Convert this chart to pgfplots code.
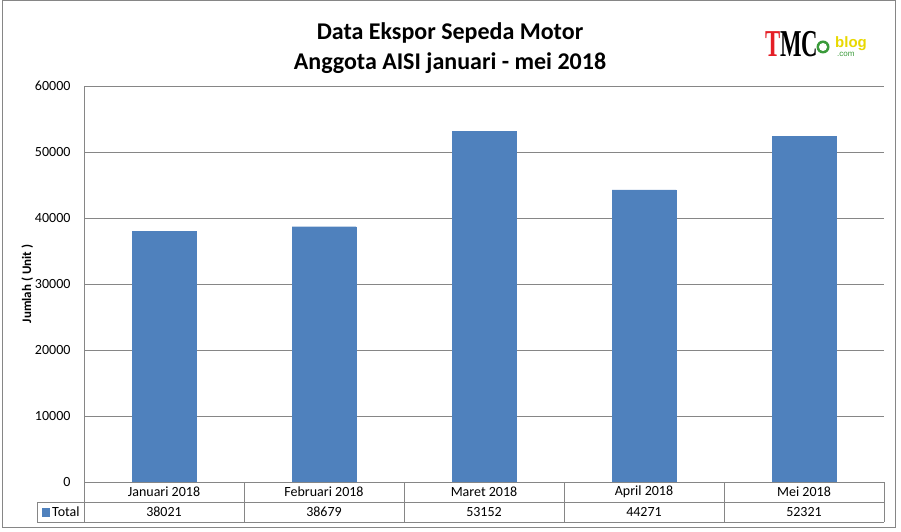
\documentclass[border=0pt]{standalone}
\usepackage{pgfplots}
\pgfplotsset{compat=1.18}
\usepackage{fontspec}
\setmainfont{Carlito}
\newfontfamily\logoserif{Liberation Serif}
\newfontfamily\logosans{Liberation Sans}
\definecolor{barblue}{HTML}{4F81BD}
\definecolor{gridgray}{HTML}{868686}
\definecolor{logored}{HTML}{E41E26}
\definecolor{logoyellow}{HTML}{E8D800}
\definecolor{logogreen}{HTML}{3A9A3A}
\begin{document}
\begin{tikzpicture}[x=1pt,y=1pt]
\useasboundingbox (0,0) rectangle (901,532);
\draw[gridgray, line width=1pt] (2,4) rectangle (895,531);
\begin{axis}[
  at={(84pt,50pt)}, anchor=south west,
  scale only axis, width=800pt, height=396pt,
  xmin=-0.5, xmax=4.5, ymin=0, ymax=60000,
  ytick={0,10000,...,60000},
  xtick=data,
  xticklabels={Januari 2018, Februari 2018, Maret 2018, April 2018, Mei 2018},
  major tick length=0pt,
  ymajorgrids, grid style={gridgray, line width=0.8pt},
  axis x line*=bottom,
  axis y line*=left,
  x axis line style={gridgray, line width=0.8pt, -},
  y axis line style={gridgray, line width=0.8pt, -},
  /pgf/number format/assume math mode=true,
  /pgf/number format/fixed,
  /pgf/number format/precision=0,
  /pgf/number format/set thousands separator={},
  scaled y ticks=false,
  yticklabel style={anchor=east, xshift=-10pt, font=\fontsize{14}{16}\selectfont},
  xticklabel style={anchor=center, yshift=-10pt, font=\fontsize{14}{16}\selectfont},
  ylabel={Jumlah ( Unit )},
  ylabel style={at={(axis description cs:-0.071,0.5)}, anchor=center, font=\bfseries\fontsize{13}{15}\selectfont},
  clip=false,
]
\addplot[ybar, bar width=64pt, fill=barblue, draw=barblue] coordinates {
  (0,38021) (1,38679) (2,53152) (3,44271) (4,52321)
};
\addplot[draw=none, mark=none, nodes near coords, point meta=explicit symbolic,
  every node near coord/.style={anchor=center, yshift=-30pt, font=\fontsize{14}{16}\selectfont}]
  coordinates {
  (0,0) [38021] (1,0) [38679] (2,0) [53152] (3,0) [44271] (4,0) [52321]
};
\end{axis}
% data table grid
\draw[gridgray, line width=0.8pt] (84,50) -- (884,50);
\draw[gridgray, line width=0.8pt] (37,30) -- (884,30);
\draw[gridgray, line width=0.8pt] (37,10) -- (884,10);
\draw[gridgray, line width=0.8pt] (37,10) -- (37,30);
\foreach \xx in {84,244,404,564,724,884} {
  \draw[gridgray, line width=0.8pt] (\xx,10) -- (\xx,50);
}
\fill[barblue] (42,15) rectangle (50,24);
\node[anchor=west, inner sep=0pt, font=\fontsize{14}{16}\selectfont] at (52,20) {Total};
% title
\node[font=\bfseries\fontsize{24}{30}\selectfont, align=center] at (450,484) {Data Ekspor Sepeda Motor\\Anggota AISI januari - mei 2018};
% logo
\node[anchor=base west, inner sep=0pt, xscale=0.6, font=\logoserif\bfseries\fontsize{38}{38}\selectfont] at (765,475)
  {\textcolor{logored}{T}MC};
\fill[logogreen] (823,485) circle (6.5);
\fill[white] (823,485) circle (4);
\node[anchor=base west, inner sep=0pt, font=\logosans\bfseries\fontsize{15}{15}\selectfont, text=logoyellow] at (835,484) {blog};
\node[anchor=base west, inner sep=0pt, font=\logosans\fontsize{8}{8}\selectfont, text=logogreen] at (837,475) {.com};
\end{tikzpicture}
\end{document}
